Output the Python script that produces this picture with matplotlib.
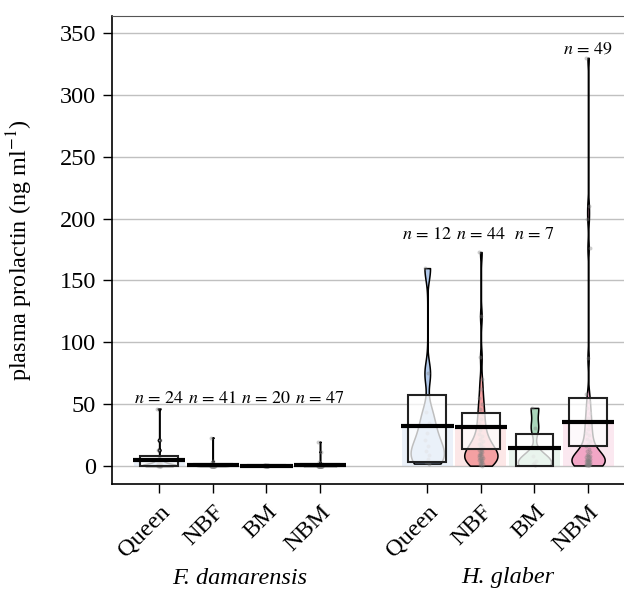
import numpy as np
import matplotlib
matplotlib.use("Agg")
import matplotlib.pyplot as plt
from matplotlib.patches import Rectangle
from matplotlib.transforms import blended_transform_factory

plt.rcParams["font.family"] = ["Liberation Serif", "DejaVu Serif"]
plt.rcParams["mathtext.fontset"] = "stix"

# ---------------------------------------------------------------
# data (ng/ml)
# ---------------------------------------------------------------
species = ["F. damarensis", "H. glaber"]
castes = ["Queen", "NBF", "BM", "NBM"]

fd_queen = [46.5, 21, 13, 6, 5, 4, 3.5, 3, 2.5, 2, 2, 1.5, 1.5, 1.2, 1, 1,
            0.8, 0.6, 0.5, 0.4, 0.3, 0.2, 0.1, 0.1]
fd_nbf = [23, 4, 2.5, 2, 1.8, 1.5, 1.2, 1.0, 1.0, 0.9, 0.8, 0.8, 0.7, 0.7,
          0.6, 0.6, 0.6, 0.5, 0.5, 0.5, 0.5, 0.4, 0.4, 0.4, 0.4, 0.3, 0.3,
          0.3, 0.3, 0.3, 0.2, 0.2, 0.2, 0.2, 0.2, 0.1, 0.1, 0.1, 0.1, 0.1, 0.1]
fd_bm = [1.0, 0.8, 0.7, 0.6, 0.5, 0.5, 0.4, 0.4, 0.3, 0.3, 0.3, 0.2, 0.2,
         0.2, 0.2, 0.1, 0.1, 0.1, 0.1, 0.05]
fd_nbm = [19.6, 11.5, 3, 2, 1.5, 1.2, 1, 0.9, 0.8, 0.7, 0.6, 0.6, 0.5, 0.5,
          0.5, 0.4, 0.4, 0.4, 0.4, 0.3, 0.3, 0.3, 0.3, 0.3, 0.3, 0.2, 0.2,
          0.2, 0.2, 0.2, 0.2, 0.2, 0.2, 0.1, 0.1, 0.1, 0.1, 0.1, 0.1, 0.1,
          0.1, 0.1, 0.1, 0.1, 0.1, 0.1, 0.1]
hg_queen = [160, 75, 44, 35, 27, 21, 16, 12, 9, 6, 3.5, 2]
hg_nbf = [173, 121, 88, 70,
          62, 55, 50, 46, 42, 38, 35, 32, 29, 26, 24, 22, 20, 19, 18,
          0.3, 0.8, 1.5, 2.1, 2.6, 3.4, 3.9, 4.5, 5.2, 5.6, 6.3, 6.8, 7.4,
          7.9, 8.6, 9.1, 9.8, 10.4, 11.2, 11.9, 12.7, 13.5, 14.2, 15.1, 16.4]
hg_bm = [47, 31, 8, 4, 2.5, 1.5, 0.5]
hg_nbm = [330, 210, 200, 176, 87, 58, 52, 47, 43, 39, 36, 33, 30, 27, 25,
          22, 20, 18, 16, 14, 12, 11, 10, 9, 8, 8, 7, 7, 6, 6, 5, 5, 5, 4,
          4, 4, 3, 3, 3, 2, 2, 2, 2, 1, 1, 1, 1, 0.5, 0.5]

group_data = [fd_queen, fd_nbf, fd_bm, fd_nbm, hg_queen, hg_nbf, hg_bm, hg_nbm]
group_means = [5.0, 1.2, 0.3, 1.0, 32.3, 31.8, 14.5, 35.8]
box_lo = [0.2, 0.5, 0.1, 0.4, 3.0, 14.0, 0.0, 16.0]
box_hi = [8.0, 2.0, 0.6, 1.8, 57.5, 42.5, 26.0, 55.0]
n_counts = [24, 41, 20, 47, 12, 44, 7, 49]

# ---------------------------------------------------------------
# layout / style
# ---------------------------------------------------------------
caste_colors = ["#B0C8EA", "#F4A0A2", "#A9D6BA", "#F2A6C6"]
positions = [1, 2, 3, 4, 6, 7, 8, 9]
label_y = [55, 55, 55, 55, 187, 187, 187, 337]
BW_ADJUST = 0.8


def nrd0(x):
    x = np.asarray(x, dtype=float)
    sd = x.std(ddof=1)
    q75, q25 = np.percentile(x, [75, 25])
    lo = min(sd, (q75 - q25) / 1.34) or sd
    return 0.9 * lo * len(x) ** -0.2


fig = plt.figure(figsize=(6.24, 5.96), dpi=100)
ax = fig.add_axes([112 / 624, 112 / 596, 512 / 624, 468 / 596])

for i, (pos, data) in enumerate(zip(positions, group_data)):
    col = caste_colors[i % 4]
    arr = np.asarray(data, dtype=float)
    mean = group_means[i]

    ax.bar(pos, mean, width=0.95, color=col, alpha=0.25, zorder=1, lw=0)

    factor = BW_ADJUST * nrd0(arr) / arr.std(ddof=1)
    vp = ax.violinplot([arr], positions=[pos], widths=0.62, showextrema=False,
                       bw_method=factor, points=600)
    body = vp["bodies"][0]
    body.set_facecolor(col)
    body.set_edgecolor("black")
    body.set_alpha(1)
    body.set_linewidth(1.1)
    body.set_zorder(2)

    jit = ((np.arange(len(arr)) * 0.618034) % 1 - 0.5) * 0.08
    ax.scatter(pos + jit, arr, s=8, color="#808080", alpha=0.4, lw=0, zorder=3)

    ax.add_patch(Rectangle((pos - 0.35, box_lo[i]), 0.7, box_hi[i] - box_lo[i],
                           facecolor=(1, 1, 1, 0.75), edgecolor="#222222",
                           lw=1.5, zorder=4))
    ax.plot([pos - 0.49, pos + 0.49], [mean, mean], color="black", lw=3,
            solid_capstyle="butt", zorder=5)
    ax.text(pos, label_y[i], rf"$n\,=\,{n_counts[i]}$", ha="center",
            va="center", fontsize=13, zorder=6)

ax.set_xlim(0.12, 9.67)
ax.set_ylim(-14.5, 363.8)
ax.set_yticks(range(0, 351, 50))
ax.yaxis.grid(True, color="#C0C0C0", lw=1)
ax.set_axisbelow(True)

ax.set_xticks(positions)
ax.set_xticklabels(castes * 2, rotation=45, ha="right", rotation_mode="anchor",
                   fontsize=17.5)
ax.tick_params(axis="y", labelsize=17.5, length=6.5, width=1, pad=5)
ax.tick_params(axis="x", length=6.5, width=1, pad=6)

ax.spines["right"].set_visible(False)
ax.spines["top"].set_color("#555555")
ax.spines["left"].set_linewidth(1.2)
ax.spines["bottom"].set_linewidth(1.2)

ax.set_ylabel("plasma prolactin (ng ml$^{-1}$)", fontsize=17.5)
ax.yaxis.set_label_coords(-0.15, 0.5)

trans = blended_transform_factory(ax.transData, fig.transFigure)
for k, name in enumerate(species):
    ax.text(np.mean(positions[4 * k:4 * k + 4]), 18 / 596, name, transform=trans,
            ha="center", va="center", fontsize=17.5, style="italic")

fig.savefig("out.png", dpi=100)
